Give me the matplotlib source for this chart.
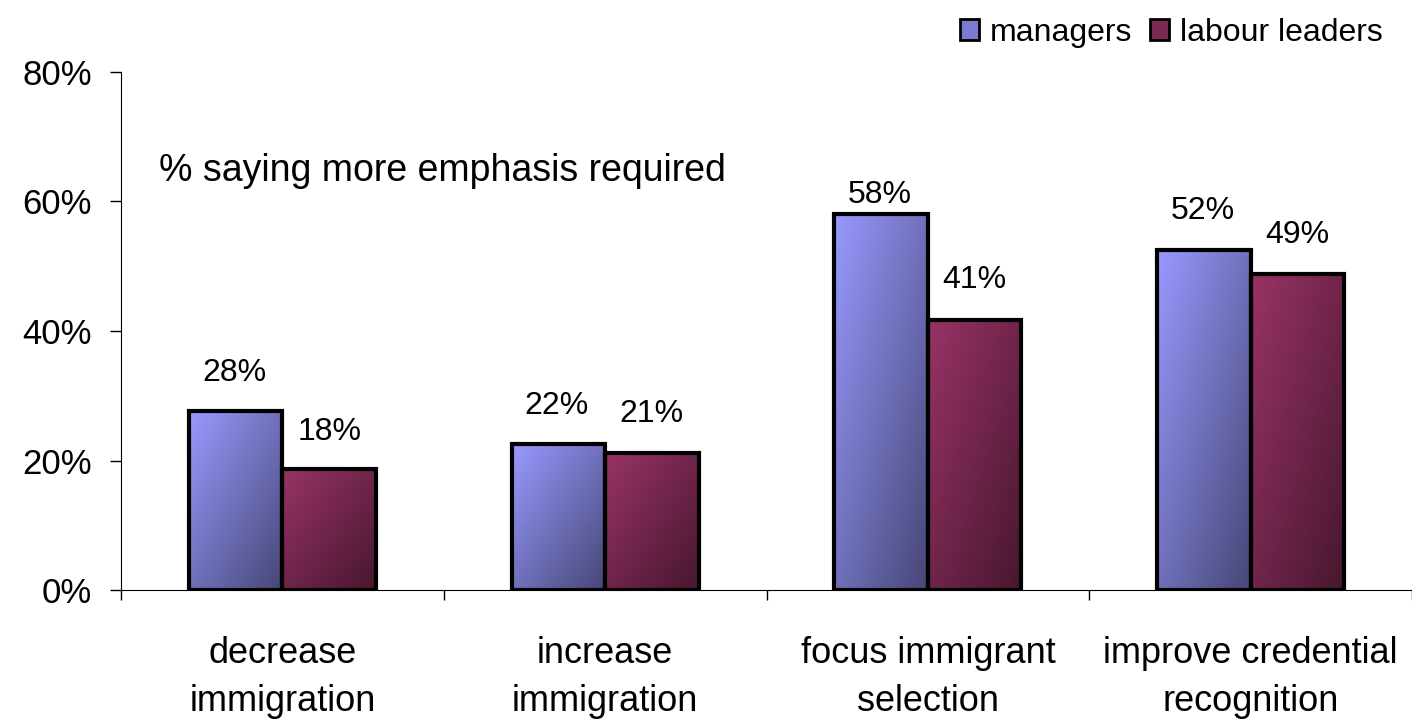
import numpy as np
import matplotlib
matplotlib.use("Agg")
import matplotlib.pyplot as plt
from matplotlib.patches import Patch
from matplotlib.colors import LinearSegmentedColormap

plt.rcParams['font.family'] = ['Liberation Sans', 'DejaVu Sans']

categories = ["decrease\nimmigration", "increase\nimmigration",
              "focus immigrant\nselection", "improve credential\nrecognition"]
series = ["managers", "labour leaders"]
managers = [0.276, 0.225, 0.58, 0.525]
labour = [0.187, 0.212, 0.417, 0.488]
managers_labels = ["28%", "22%", "58%", "52%"]
labour_labels = ["18%", "21%", "41%", "49%"]
yticks = [0, 0.2, 0.4, 0.6, 0.8]
ytick_labels = ["0%", "20%", "40%", "60%", "80%"]

# gradient ends: light top-left -> dark bottom-right
grad = {
    "managers": ("#9999ff", "#474777"),
    "labour leaders": ("#993366", "#47172f"),
}

fig = plt.figure(figsize=(14.12, 7.24), dpi=100)
ax = fig.add_axes([0.0857, 0.185, 0.9143, 0.7156])

x = np.arange(len(categories))
w = 0.29

# diagonal gradient field
gy, gx = np.mgrid[0:1:100j, 0:1:100j]
field = (gx + gy) / 2.0


def gradient_bars(xs, vals, name):
    cmap = LinearSegmentedColormap.from_list(name, grad[name])
    bars = ax.bar(xs, vals, w, facecolor="none", edgecolor="black",
                  linewidth=3, zorder=3)
    for b in bars:
        x0, y0 = b.get_x(), b.get_y()
        im = ax.imshow(field, cmap=cmap, extent=(x0, x0 + b.get_width(), y0, y0 + b.get_height()),
                       origin="upper", aspect="auto", zorder=2, vmin=0, vmax=1)
        im.set_clip_path(b)
    return bars


gradient_bars(x - w / 2, managers, "managers")
gradient_bars(x + w / 2, labour, "labour leaders")

# data labels, nudged by hand like the original
m_off = [17, 17, 3, 17]
l_off = [16, 17, 18, 17]
for xi, v, lab, off in zip(x - w / 2, managers, managers_labels, m_off):
    ax.annotate(lab, (xi, v), xytext=(-1, off), textcoords="offset points",
                ha="center", va="bottom", fontsize=23)
for xi, v, lab, off in zip(x + w / 2, labour, labour_labels, l_off):
    ax.annotate(lab, (xi, v), xytext=(0, off), textcoords="offset points",
                ha="center", va="bottom", fontsize=23)

ax.text(-0.383, 0.647, "% saying more emphasis required", ha="left", va="center",
        fontsize=27)

ax.set_xlim(-0.5, len(categories) - 0.5)
ax.set_ylim(0, 0.8)
ax.set_yticks(yticks)
ax.set_yticklabels(ytick_labels, fontsize=25)
ax.set_xticks(x)
ax.set_xticklabels(categories, fontsize=26, linespacing=1.5)
ax.set_xticks(np.arange(len(categories) + 1) - 0.5, minor=True)
ax.tick_params(axis="x", which="major", length=0, pad=33)
ax.tick_params(axis="x", which="minor", length=7, width=1)
ax.tick_params(axis="y", length=8, width=1, pad=13)
for s in ["top", "right"]:
    ax.spines[s].set_visible(False)

handles = [Patch(facecolor="#7a7ad0", edgecolor="black", linewidth=2),
           Patch(facecolor="#7a2a52", edgecolor="black", linewidth=2)]
fig.legend(handles, series, loc="upper right", bbox_to_anchor=(1.0, 1.015), ncol=2,
           frameon=False, fontsize=23, handlelength=0.6, handleheight=0.6,
           handletextpad=0.35, columnspacing=0.55)

fig.savefig("out.png", dpi=100)
